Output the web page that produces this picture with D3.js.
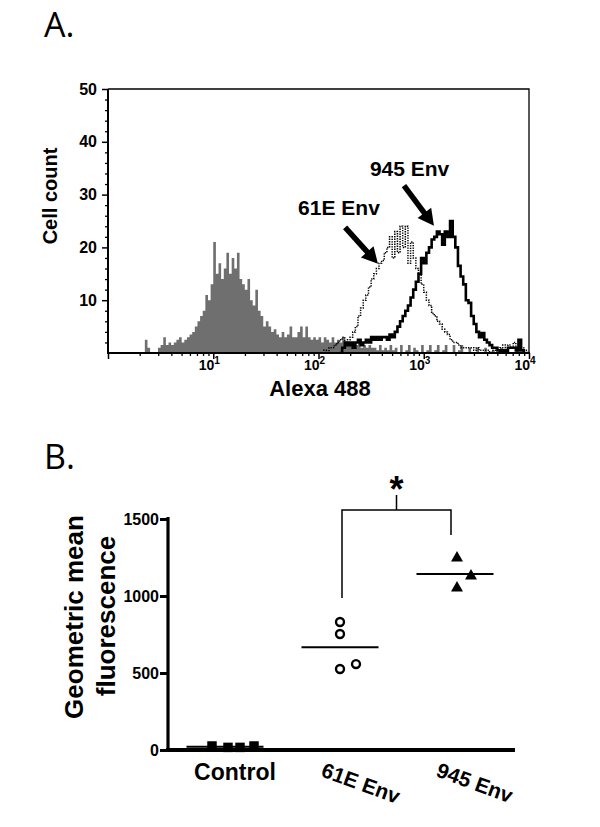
<!DOCTYPE html>
<html>
<head>
<meta charset="utf-8">
<script src="https://cdn.jsdelivr.net/npm/d3@7"></script>
<style>
  body { margin: 0; background: #fff; }
  svg { display: block; font-family: "Liberation Sans", Arial, sans-serif; }
</style>
</head>
<body>
<svg id="chart" width="600" height="827"></svg>
<script>
// ---- panel A : flow histograms (log10 bin start, bin width in decades, counts per bin)
const binWidth = 0.025;

const controlStart = 0.3;
const controlCounts = [
  0, 0, 2.5, 1, 0, 0, 0, 1, 1.5, 3,
  1.5, 2, 1.5, 2, 2.5, 3, 2, 2.5, 3, 3.5,
  4, 5, 6, 7, 8, 11, 10, 13, 21, 15,
  17, 14, 16, 19, 15, 18, 16, 19, 14, 13,
  12, 14, 10, 9, 12, 8, 7, 5, 6, 5,
  4, 4.5, 3.5, 3, 4, 3, 3.5, 5, 3, 3,
  4, 5, 3, 5, 3, 2.5, 3, 2.5, 3, 2,
  3, 2.5, 2, 3, 2, 2.5, 2, 3, 2, 1.5,
  2, 2, 1.5, 2, 1, 1.5, 1, 1.5, 1, 1,
  0.5, 1.5, 0.5, 1, 0.5, 1.5, 0.5, 1, 0, 1.5,
  0, 0.5, 1.5, 0, 1, 0.5, 0, 1.5, 0, 0.5,
  1.5, 0, 0.5, 1.5, 0, 0.5, 1.5, 0, 0, 1.5,
  0, 0.5, 1.5, 0, 0, 1, 0, 0, 1, 0,
  0, 1, 0, 0, 0.5, 0, 0, 1, 0, 0.5,
  0, 0, 0, 1, 0, 0, 0, 0
];

const env61Start = 2.0;
const env61Counts = [
  0, 0, 0.5, 0, 1, 1, 1.5, 2, 2.5, 3,
  2, 2.5, 3, 4, 5, 7, 8.5, 10, 11, 12.5,
  14, 15, 16, 17, 17.5, 19, 20, 22, 18, 23,
  19, 24, 20, 24, 17, 21, 18, 16, 15, 13,
  11.5, 10, 9, 7.5, 7, 6, 5.5, 4.5, 4, 3.5,
  2.5, 2, 2, 1.5, 1, 1, 1, 1, 1, 0.5,
  1, 0.5, 0.5, 0.5, 0.5, 0, 0.5, 0.5, 0.5, 1,
  1.5, 1, 1.5, 1, 2, 1, 0.5, 1, 0.5, 0
];

const env945Start = 2.2;
const env945Counts = [
  0, 1, 2, 1.5, 2, 1, 2, 2.5, 1.5, 2,
  2.5, 2, 3, 2.5, 3, 2.5, 3, 3, 2.5, 3.5,
  3, 4, 5, 6, 7, 8, 9, 10.5, 12, 13.5,
  15, 18, 17, 19, 20, 21.5, 22, 23, 22.5, 20.5,
  23, 22, 25, 22, 20, 16.5, 14.5, 13, 10, 9.5,
  7, 5.5, 4, 3, 3.8, 2.5, 2, 1.5, 1, 1,
  0.5, 0, 0.5, 0, 1, 1, 1, 0.5, 2.5, 0.5,
  0, 0
];

const yTicksA = [10, 20, 30, 40, 50];
const xDecadesA = [1, 2, 3, 4];

// annotation anchors in data units: [label, text x, text count, arrow tail x, tail count, tip x, tip count]
const annotations = [
  ['61E Env', 64, 26.2, 179, 23.8, 367, 16.9],
  ['945 Env', 308, 33.5, 649, 31.7, 1250, 24.1]
];

// ---- panel B : geometric mean fluorescence
const categories = ['Control', '61E Env', '945 Env'];
const controlValues = [26, 17, 17, 26];
const env61Values = [831, 753, 526, 558];
const env945Values = [1247, 1130, 1052];
const yTicksB = [0, 500, 1000, 1500];
// significance bracket (values): left foot, right foot, bar, top of centre tick
const bracket = [987, 1396, 1558, 1656];

const svg = d3.select('#chart');
svg.append('rect').attr('width', 600).attr('height', 827).attr('fill', '#fff');

// panel letters
svg.append('text').attr('x', 44).attr('y', 37)
  .attr('font-family', '"Open Sans", sans-serif').attr('font-size', 34).text('A.');
svg.append('text').attr('x', 44).attr('y', 469)
  .attr('font-family', '"Open Sans", sans-serif').attr('font-size', 34).text('B.');

// ================= Panel A =================
const xA = d3.scaleLog().domain([1, 1e4]).range([108, 529]);
const yA = d3.scaleLinear().domain([0, 50]).range([353, 89]);

const stepPoints = (start, counts) => {
  const pts = [[10 ** start, 0]];
  counts.forEach((c, i) => pts.push([10 ** (start + i * binWidth), c]));
  pts.push([10 ** (start + counts.length * binWidth), 0]);
  return pts;
};

svg.append('clipPath').attr('id', 'clipA')
  .append('rect').attr('x', 108).attr('y', 89).attr('width', 421).attr('height', 264);

const gA = svg.append('g').attr('clip-path', 'url(#clipA)');

gA.append('path')
  .datum(stepPoints(controlStart, controlCounts))
  .attr('fill', '#6f6f6f')
  .attr('d', d3.area().curve(d3.curveStepAfter)
    .x(d => xA(d[0])).y0(yA(0)).y1(d => yA(d[1])));

const lineA = d3.line().curve(d3.curveStepAfter).x(d => xA(d[0])).y(d => yA(d[1]));

gA.append('path')
  .datum(stepPoints(env61Start, env61Counts))
  .attr('fill', 'none').attr('stroke', '#000')
  .attr('stroke-width', 1.5).attr('stroke-dasharray', '1.3,1.2')
  .attr('d', lineA);

gA.append('path')
  .datum(stepPoints(env945Start, env945Counts))
  .attr('fill', 'none').attr('stroke', '#000')
  .attr('stroke-width', 2.6).attr('stroke-linejoin', 'miter')
  .attr('d', lineA);

// frame
svg.append('path')
  .attr('d', `M108,89H529V353`)
  .attr('fill', 'none').attr('stroke', '#000').attr('stroke-width', 1.3);

// y axis A
const minorY = d3.range(0, 51, 2).filter(v => v % 10 !== 0);
svg.append('g').attr('transform', 'translate(108,0)')
  .call(d3.axisLeft(yA).tickValues(minorY).tickSize(3).tickFormat(''))
  .call(g => g.select('.domain').remove())
  .call(g => g.selectAll('line').attr('stroke-width', 1.3));
svg.append('g').attr('transform', 'translate(108,0)')
  .call(d3.axisLeft(yA).tickValues(yTicksA).tickSize(6).tickPadding(5))
  .call(g => g.select('.domain').attr('stroke-width', 2).attr('d', 'M0,89V354'))
  .call(g => g.selectAll('line').attr('stroke-width', 1.5))
  .call(g => g.selectAll('text')
    .attr('font-family', '"Liberation Sans", Arial, sans-serif')
    .attr('font-size', 16).attr('font-weight', 'bold').attr('fill', '#000'));

// x axis A (log decades with minor ticks)
const minorX = [];
[0, 1, 2, 3].forEach(e => d3.range(2, 10).forEach(m => minorX.push(m * 10 ** e)));
svg.append('g').attr('transform', 'translate(0,353)')
  .call(d3.axisBottom(xA).tickValues(minorX).tickSize(3).tickFormat(''))
  .call(g => g.select('.domain').remove())
  .call(g => g.selectAll('line').attr('stroke-width', 1.3));
svg.append('g').attr('transform', 'translate(0,353)')
  .call(d3.axisBottom(xA).tickValues([1, 10, 100, 1000, 10000]).tickSize(6).tickFormat(''))
  .call(g => g.select('.domain').attr('stroke-width', 2).attr('d', 'M107,0H530'))
  .call(g => g.selectAll('line').attr('stroke-width', 1.5));

const xLab = svg.append('g').selectAll('text').data(xDecadesA).join('text')
  .attr('x', d => xA(10 ** d) - 4).attr('y', 370)
  .attr('text-anchor', 'middle').attr('font-size', 14).attr('font-weight', 'bold');
xLab.append('tspan').text('10');
xLab.append('tspan').attr('dy', -6).attr('font-size', 10).text(d => d);

svg.append('text').attr('x', 320).attr('y', 396).attr('text-anchor', 'middle')
  .attr('font-size', 22).attr('font-weight', 'bold').text('Alexa 488');
svg.append('text').attr('transform', 'translate(57,196) rotate(-90)')
  .attr('text-anchor', 'middle').attr('font-size', 20).attr('font-weight', 'bold').text('Cell count');

// arrows + labels
const arrow = (x1, y1, x2, y2) => {
  const a = Math.atan2(y2 - y1, x2 - x1);
  const ux = Math.cos(a), uy = Math.sin(a);
  const L = 16, W = 8.5;
  const bx = x2 - ux * L, by = y2 - uy * L;
  svg.append('line').attr('x1', x1).attr('y1', y1)
    .attr('x2', bx + ux * 2).attr('y2', by + uy * 2)
    .attr('stroke', '#000').attr('stroke-width', 5.5);
  svg.append('path')
    .attr('d', `M${x2},${y2}L${bx - uy * W},${by + ux * W}L${bx + uy * W},${by - ux * W}Z`)
    .attr('fill', '#000');
};
annotations.forEach(([label, tx, ty, ax, ay, bx, by]) => {
  svg.append('text').attr('x', xA(tx)).attr('y', yA(ty))
    .attr('font-size', 21).attr('font-weight', 'bold').text(label);
  arrow(xA(ax), yA(ay), xA(bx), yA(by));
});

// ================= Panel B =================
const xB = d3.scalePoint().domain(categories).range([225, 455]);
const yB = d3.scaleLinear().domain([0, 1500]).range([750, 519]);

svg.append('g').attr('transform', 'translate(168,0)')
  .call(d3.axisLeft(yB).tickValues(yTicksB).tickSize(8).tickPadding(1).tickFormat(d3.format('d')))
  .call(g => g.select('.domain').attr('stroke-width', 3.2).attr('d', 'M0,517V752'))
  .call(g => g.selectAll('line').attr('stroke-width', 3))
  .call(g => g.selectAll('text')
    .attr('font-family', '"Liberation Sans", Arial, sans-serif')
    .attr('font-size', 16).attr('font-weight', 'bold').attr('fill', '#000'));

svg.append('line').attr('x1', 166).attr('x2', 515).attr('y1', 750).attr('y2', 750)
  .attr('stroke', '#000').attr('stroke-width', 4);

const groups = [
  { cat: 'Control', values: controlValues, shape: 'square', swarm: [-13, 3, 15, 29] },
  { cat: '61E Env', values: env61Values, shape: 'circle', swarm: [0, 0, 0, 16] },
  { cat: '945 Env', values: env945Values, shape: 'triangle', swarm: [2, 16, 2] }
];

groups.forEach(g => {
  const cx = xB(g.cat);
  const m = d3.mean(g.values);
  svg.append('line').attr('x1', cx - 38.5).attr('x2', cx + 38.5)
    .attr('y1', yB(m)).attr('y2', yB(m)).attr('stroke', '#000').attr('stroke-width', 2);
  const pts = svg.append('g').selectAll('path').data(g.values).join('path')
    .attr('transform', (d, i) => `translate(${cx + g.swarm[i]},${yB(d)})`);
  if (g.shape === 'circle') {
    pts.attr('d', d3.symbol(d3.symbolCircle, 50)).attr('fill', '#fff')
      .attr('stroke', '#000').attr('stroke-width', 2.4);
  } else if (g.shape === 'triangle') {
    pts.attr('d', d3.symbol(d3.symbolTriangle, 62)).attr('fill', '#000');
  } else {
    pts.attr('d', d3.symbol(d3.symbolSquare, 90)).attr('fill', '#000');
  }
});

// significance bracket
const bl = xB('61E Env') + 2, br = xB('945 Env') - 4, bm = (bl + br) / 2;
svg.append('path')
  .attr('d', `M${bl},${yB(bracket[0])}V${yB(bracket[2])}H${br}V${yB(bracket[1])}M${bm},${yB(bracket[2])}V${yB(bracket[3])}`)
  .attr('fill', 'none').attr('stroke', '#000').attr('stroke-width', 1.5);
svg.append('text').attr('x', bm).attr('y', 502).attr('text-anchor', 'middle')
  .attr('font-size', 36).attr('font-weight', 'bold').text('*');

// category labels
svg.append('text').attr('x', xB('Control') + 10).attr('y', 780).attr('text-anchor', 'middle')
  .attr('font-size', 23).attr('font-weight', 'bold').text('Control');
['61E Env', '945 Env'].forEach(c => {
  svg.append('text')
    .attr('transform', `translate(${xB(c) - 20},776) rotate(20)`)
    .attr('font-size', 21).attr('font-weight', 'bold').text(c);
});

// y title
svg.append('text').attr('transform', `translate(83,617) rotate(-90)`)
  .attr('text-anchor', 'middle').attr('font-size', 26).attr('font-weight', 'bold').text('Geometric mean');
svg.append('text').attr('transform', `translate(115,616) rotate(-90)`)
  .attr('text-anchor', 'middle').attr('font-size', 26).attr('font-weight', 'bold').text('fluorescence');
</script>
</body>
</html>
